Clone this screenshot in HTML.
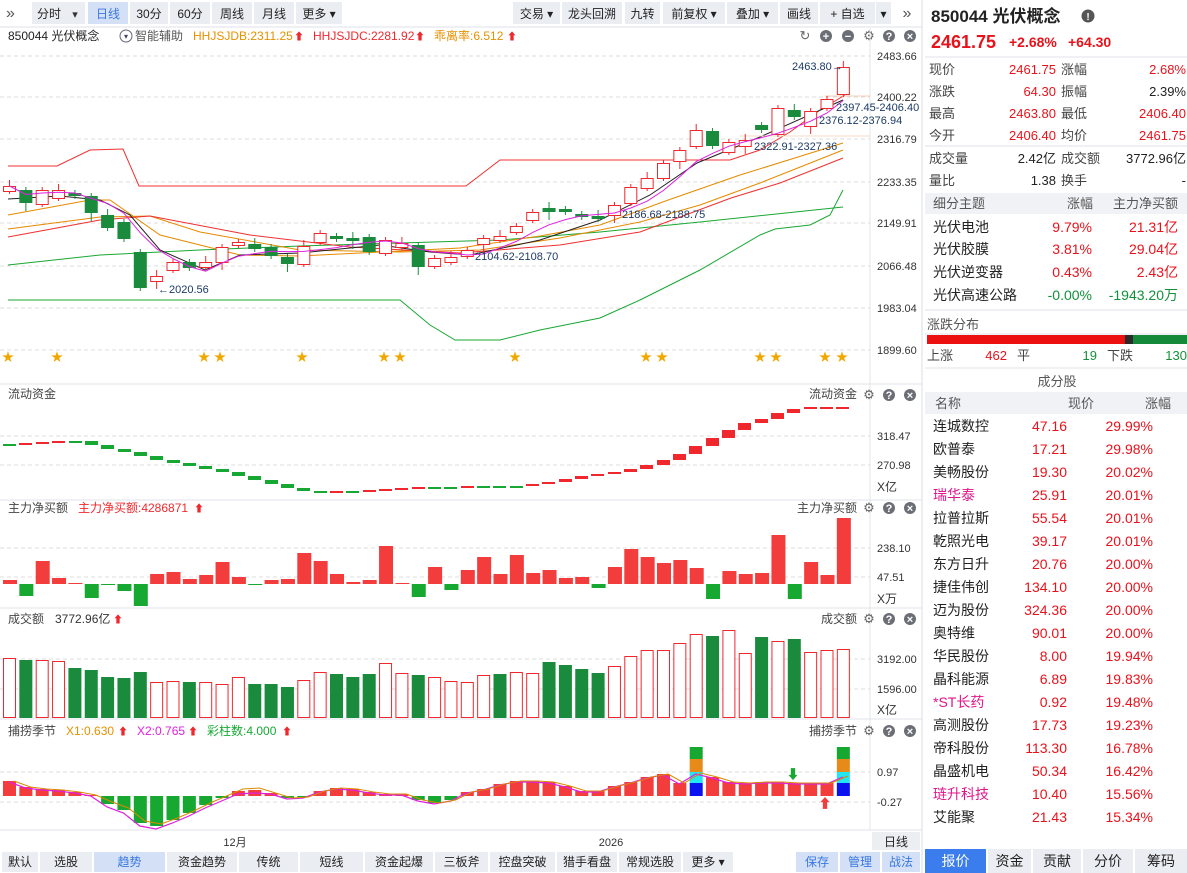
<!DOCTYPE html>
<html><head><meta charset="utf-8"><style>
html,body{margin:0;padding:0;background:#fff;width:1187px;height:873px;overflow:hidden}
svg{display:block;font-family:"Liberation Sans","Noto Sans CJK SC",sans-serif}
</style></head><body>
<svg id="s" width="1187" height="873" xmlns="http://www.w3.org/2000/svg"></svg>
<script>
const R='#f0282d',G='#1a8a3c',GG='#17a833';
let o='';
function rect(x,y,w,h,f,st){o+=`<rect x="${x}" y="${y}" width="${w}" height="${h}" fill="${f||'none'}" ${st?`stroke="${st}" stroke-width="1"`:''}/>`;}
function line(x1,y1,x2,y2,c,d){o+=`<line x1="${x1}" y1="${y1}" x2="${x2}" y2="${y2}" stroke="${c}" stroke-width="1" ${d?'stroke-dasharray="4,3"':''}/>`;}
function txt(x,y,t,c,sz,a,w){o+=`<text x="${x}" y="${y}" fill="${c||'#333'}" font-size="${sz||12}" ${a?`text-anchor="${a}"`:''} ${w?'font-weight="bold"':''}>${t}</text>`;}
function pl(pts,c,w){o+=`<polyline points="${pts.map(p=>p.join(',')).join(' ')}" fill="none" stroke="${c}" stroke-width="${w||1}"/>`;}
function btn(x1,x2,t,sel,y,h){rect(x1,2,x2-x1,22,sel?'#d3e0f5':'#eaeef3');txt((x1+x2)/2,18,t,sel?'#3a78e0':'#222',12,'middle');}
// top toolbar
txt(6,18,'»','#555',16);
[[32,66,'分时'],[88,128,'日线',1],[130,168,'30分'],[170,210,'60分'],[212,252,'周线'],[254,294,'月线'],[296,342,'更多 ▾'],[513,560,'交易 ▾'],[562,622,'龙头回溯'],[625,660,'九转'],[663,725,'前复权 ▾'],[727,778,'叠加 ▾'],[780,818,'画线'],[820,875,'+ 自选'],[876,891,'▾']].forEach(b=>btn(b[0],b[1],b[2],b[3]));
rect(66,2,19,22,'#eaeef3');txt(75,18,'▾','#333',11,'middle');
txt(907,18,'»','#555',16,'middle');
line(0,27,922,27,'#dde2ea');
// header
txt(8,40,'850044 光伏概念','#222',12);
o+=`<circle cx="126" cy="36" r="6" fill="none" stroke="#667"/>`;txt(126,39,'▾','#446',8,'middle');
txt(135,40,'智能辅助','#555',12);
txt(193,40,'HHJSJDB:2311.25','#e69100',12);txt(294,40,'⬆','#f0282d',10);
txt(313,40,'HHJSJDC:2281.92','#f0282d',12);txt(415,40,'⬆','#f0282d',10);
txt(434,40,'乖离率:6.512','#e69100',12);txt(507,40,'⬆','#f0282d',10);
function icons(y,ref){const xs=ref?[805,826,848,869,889,910]:[869,889,910];const g=ref?['↻','+','−','⚙','?','×']:['⚙','?','×'];xs.forEach((x,i)=>{if(g[i]=='↻'||g[i]=='⚙'){txt(x,y+4,g[i],'#666',13,'middle');}else{o+=`<circle cx="${x}" cy="${y}" r="6" fill="#6b6e74"/>`;txt(x,y+4,g[i],'#fff',11,'middle',1);}});}
icons(36,1);
// right axis separators
line(870,28,870,830,'#e3e6ea');line(922,0,922,873,'#d8dce3');
// main grid
const pl1=[[56,'2483.66'],[97,'2400.22'],[139,'2316.79'],[182,'2233.35'],[223,'2149.91'],[266,'2066.48'],[308,'1983.04'],[350,'1899.60']];
pl1.forEach(p=>{line(0,p[0],870,p[0],'#dcdcdc',1);txt(877,p[0]+4,p[1],'#333',11);});
// channel lines
pl([[8,166],[57,166],[90,150],[123,149],[139,186],[466,186],[500,160],[730,160],[760,150],[790,132],[820,110],[845,95]],'#f03030');
pl([[8,300],[400,300],[430,325],[455,340],[500,340],[540,330],[600,318],[640,300],[700,270],[760,235],[775,229],[810,225],[830,215],[843,190]],'#19a833');
pl([[8,265],[100,255],[200,250],[300,246],[400,243],[500,240],[600,232],[700,222],[843,207]],'#19a833');
pl([[8,229],[100,217],[150,216],[200,232],[300,250],[400,252],[480,250],[560,238],[640,222],[700,205],[760,183],[843,150]],'#e68a00');
pl([[8,215],[90,200],[110,200],[160,235],[240,255],[300,256],[380,252],[460,248],[540,236],[600,225],[671,199],[740,175],[843,143]],'#e68a00');
pl([[8,237],[100,220],[150,216],[250,235],[350,247],[460,253],[560,245],[640,232],[731,198],[780,183],[843,158]],'#f03030');
pl([[8,199],[60,196],[100,200],[130,215],[160,250],[205,270],[240,255],[300,253],[380,245],[430,252],[470,255],[540,240],[600,220],[650,195],[697,163],[760,137],[843,100]],'#222');
line(825,96,870,96,'#f5d0b8');line(740,136,870,136,'#f5dcc8');
// candles [top,bot,color]
const C=[[186,191,'r'],[190,203,'g'],[190,204,'r'],[190,198,'r'],[193,196,'g'],[196,213,'g'],[215,228,'g'],[222,239,'g'],[252,288,'g'],[276,281,'r'],[262,270,'r'],[262,268,'g'],[262,267,'r'],[247,262,'r'],[242,245,'r'],[244,249,'g'],[247,256,'g'],[257,264,'g'],[246,264,'r'],[233,242,'r'],[236,239,'g'],[238,241,'g'],[237,252,'g'],[240,253,'r'],[243,247,'r'],[245,267,'g'],[258,266,'r'],[257,262,'r'],[250,256,'r'],[238,244,'r'],[236,240,'r'],[226,232,'r'],[212,220,'r'],[208,212,'g'],[209,212,'g'],[214,217,'g'],[216,219,'g'],[205,215,'r'],[187,203,'r'],[178,188,'r'],[163,178,'r'],[150,161,'r'],[130,146,'r'],[131,146,'g'],[142,152,'r'],[140,146,'r'],[125,130,'g'],[108,134,'r'],[110,117,'g'],[111,126,'r'],[99,108,'r'],[67,94,'r']];
const cx=i=>9.5+16.35*i;
C.forEach((c,i)=>{const x=cx(i),col=c[2]=='r'?R:G;const wt=c[0]-(i%3==0?6:3),wb=c[1]+(i%4==1?8:3);line(x,wt,x,wb,col);if(c[2]=='r'){rect(x-6,c[0]+0.5,12,Math.max(c[1]-c[0],1),'#fff',R);}else rect(x-6.5,c[0],13,Math.max(c[1]-c[0],2),G);});
// MA5 magenta
const cl=C.map(c=>c[2]=='r'?c[0]:c[1]);
const m5=cl.map((v,i)=>{let s=0,n=0;for(let k=Math.max(0,i-4);k<=i;k++){s+=cl[k];n++;}return [cx(i),(s/n).toFixed(1)];});
pl(m5,'#e020e0');
// labels
txt(792,70,'2463.80→','#1d3b66',11);txt(836,111,'2397.45-2406.40','#1d3b66',11);txt(819,124,'2376.12-2376.94','#1d3b66',11);
txt(754,150,'2322.91-2327.36','#1d3b66',11);txt(622,218,'2186.68-2188.75','#1d3b66',11);txt(475,260,'2104.62-2108.70','#1d3b66',11);
txt(158,293,'←2020.56','#1d3b66',11);
[8,57,204,220,302,384,400,515,646,662,760,776,825,842].forEach(x=>txt(x,361,'★','#f0a800',12,'middle'));
// panel separators
[384,500,608,719].forEach(y=>line(0,y,922,y,'#e0e3e8'));
// panel 2
txt(8,398,'流动资金','#444',12);txt(857,398,'流动资金','#444',12,'end');icons(395);
line(0,436,870,436,'#dcdcdc',1);line(0,465,870,465,'#dcdcdc',1);
txt(877,440,'318.47','#333',11);txt(877,469,'270.98','#333',11);txt(877,491,'X亿','#333',12);
const F=[[0,444],[16,443],[33,442],[49,441],[66,441],[82,445],[98,449],[115,452],[131,456],[147,460],[164,463],[180,466],[196,469],[213,472],[229,476],[245,480],[262,484],[278,488],[294,491],[311,492],[327,491],[343,491],[360,490],[376,489],[392,488],[409,487],[425,487],[441,487],[458,486],[474,486],[490,486],[507,486],[523,484],[539,482],[556,479],[572,476],[588,474],[605,472],[621,469],[637,465],[654,460],[670,454],[686,446],[703,438],[719,430],[735,423],[752,419],[768,413],[784,409],[801,407],[817,407],[833,407]];
F.forEach((f,i)=>{const prev=i?F[i-1][1]:f[1];const up=f[1]<prev;const t=Math.min(f[1],prev),b=Math.max(f[1],prev);rect(f[0]+3,t,13,Math.max(b-t,2),up?R:(f[1]==prev&&i>48?(i==49?GG:R):GG));});
// panel 3
txt(8,512,'主力净买额','#444',12);txt(78,512,'主力净买额:4286871','#f0282d',12);txt(194,512,'⬆','#f0282d',10);txt(857,512,'主力净买额','#444',12,'end');icons(508);
line(0,548,870,548,'#dcdcdc',1);line(0,577,870,577,'#dcdcdc',1);
txt(877,552,'238.10','#333',11);txt(877,581,'47.51','#333',11);txt(877,603,'X万','#333',12);
const N=[580,596,561,578,583,598,585,591,606,574,572,579,575,562,577,585,580,579,553,561,574,582,580,546,583,597,567,590,570,557,574,555,573,570,578,577,588,567,549,557,563,560,568,599,571,574,573,535,599,562,575,518];
const base=584;
N.forEach((v,i)=>{const x=3+16.35*i;if(v<base)rect(x,v,14,base-v,'#f33c3c');else rect(x,base,14,v-base,'#16a831');});
// panel 4
txt(8,623,'成交额','#444',12);txt(55,623,'3772.96亿','#333',12);txt(113,623,'⬆','#f0282d',10);txt(857,623,'成交额','#444',12,'end');icons(619);
line(0,659,870,659,'#dcdcdc',1);line(0,689,870,689,'#dcdcdc',1);
txt(877,663,'3192.00','#333',11);txt(877,693,'1596.00','#333',11);txt(877,714,'X亿','#333',12);
const V=[[658,'r'],[660,'g'],[660,'r'],[661,'r'],[668,'g'],[670,'g'],[677,'g'],[678,'g'],[672,'g'],[682,'r'],[681,'r'],[682,'g'],[682,'r'],[684,'r'],[677,'r'],[684,'g'],[684,'g'],[687,'g'],[680,'r'],[672,'r'],[674,'g'],[677,'g'],[674,'g'],[663,'r'],[673,'r'],[675,'g'],[677,'r'],[681,'r'],[682,'r'],[675,'r'],[674,'g'],[672,'r'],[673,'r'],[662,'g'],[665,'g'],[669,'g'],[673,'g'],[666,'r'],[656,'r'],[650,'r'],[650,'r'],[643,'r'],[634,'r'],[636,'g'],[630,'r'],[653,'r'],[637,'g'],[641,'r'],[639,'g'],[652,'r'],[650,'r'],[649,'r']];
V.forEach((v,i)=>{const x=3+16.35*i;if(v[1]=='r')rect(x+0.5,v[0]+0.5,12,717-v[0],'#fff',R);else rect(x,v[0],13,718-v[0],G);});
// panel 5
txt(8,735,'捕捞季节','#444',12);txt(66,735,'X1:0.630','#e69100',12);txt(118,735,'⬆','#f0282d',10);txt(137,735,'X2:0.765','#e020e0',12);txt(188,735,'⬆','#f0282d',10);txt(207,735,'彩柱数:4.000','#17a833',12);txt(282,735,'⬆','#f0282d',10);
txt(857,735,'捕捞季节','#444',12,'end');icons(731);
line(0,772,870,772,'#dcdcdc',1);line(0,802,870,802,'#dcdcdc',1);
txt(877,776,'0.97','#333',11);txt(877,806,'-0.27','#333',11);
const K=[781,787,789,790,792,795,804,810,823,826,820,813,805,798,791,790,793,798,797,791,788,789,792,794,794,800,803,800,792,789,784,781,781,782,786,791,791,786,782,777,774,0,773,777,782,783,782,782,783,783,0,0];
const z=796;
K.forEach((v,i)=>{const x=3+16.35*i;if(i==42||i==51){rect(x,747,13,12,'#16a831');rect(x,759,13,13,'#e68a1a');rect(x,772,13,11,'#22e6f0');rect(x,783,13,13,'#0a12f0');return;}
if(v==0)v=783;const g=(i>=6&&i<=15)||i==17||i==18||(i>=25&&i<=27);if(v<z&&!g)rect(x,v,13,z-v,'#f33c3c');else if(v>z)rect(x,z,13,v-z,'#16a831');else rect(x,v,13,z-v,'#f33c3c');});
const L1=K.map((v,i)=>[3+16.35*i+6,(v==0?(i==42?772:i==51?776:783):v)]);
pl(L1.map((p,i)=>[p[0],(p[1]+(i>5&&i<16?2:0)+1).toFixed(1)]),'#e020e0',1.2);
pl(L1.map((p,i)=>[p[0]+5,(p[1]-(i>5&&i<16?2:0)).toFixed(1)]),'#d98a00',1);
txt(793,779,'⬇','#16a831',13,'middle');txt(825,808,'⬆','#f33c3c',13,'middle');
// date axis
line(0,830,922,830,'#e0e3e8');txt(235,846,'12月','#333',11,'middle');txt(611,846,'2026','#333',11,'middle');
rect(872,832,48,18,'#eceef2');txt(896,846,'日线','#222',12,'middle');
// bottom toolbar
function bb(x1,x2,t,sel,blue){rect(x1,852,x2-x1,20,sel?'#d3e0f5':'#eaeef3');txt((x1+x2)/2,866,t,sel||blue?'#3a78e0':'#222',12,'middle');}
[[2,38,'默认'],[40,92,'选股'],[94,165,'趋势',1],[167,237,'资金趋势'],[239,298,'传统'],[300,363,'短线'],[365,433,'资金起爆'],[435,488,'三板斧'],[490,555,'控盘突破'],[557,617,'猎手看盘'],[619,681,'常规选股'],[683,733,'更多 ▾'],[796,838,'保存',1],[840,880,'管理',1],[882,920,'战法',1]].forEach(b=>bb(b[0],b[1],b[2],b[3]));
// right panel
txt(931,22,'850044 光伏概念','#222',17,null,1);o+=`<circle cx="1088" cy="16" r="6.5" fill="#555"/>`;txt(1088,20,'!','#fff',10,'middle',1);
txt(931,48,'2461.75','#e8121b',18,null,1);txt(1009,47,'+2.68%','#e8121b',14,null,1);txt(1068,47,'+64.30','#e8121b',14,null,1);
line(925,57,1187,57,'#dfe3ea');
const rw=[[69,'现价','2461.75','涨幅','2.68%',1],[91,'涨跌','64.30','振幅','2.39%',0],[113,'最高','2463.80','最低','2406.40',1],[135,'今开','2406.40','均价','2461.75',1]];
rw.forEach(r=>{txt(929,r[0]+5,r[1],'#444',13);txt(1056,r[0]+5,r[2],'#e8121b',13,'end');txt(1061,r[0]+5,r[3],'#444',13);txt(1186,r[0]+5,r[4],r[5]?'#e8121b':'#222',13,'end');});
line(925,146,1187,146,'#dfe3ea');
txt(929,163,'成交量','#444',13);txt(1056,163,'2.42亿','#222',13,'end');txt(1061,163,'成交额','#444',13);txt(1186,163,'3772.96亿','#222',13,'end');
txt(929,185,'量比','#444',13);txt(1056,185,'1.38','#222',13,'end');txt(1061,185,'换手','#444',13);txt(1186,185,'-','#222',13,'end');
rect(925,193,262,21,'#f0f2f5');txt(933,208,'细分主题','#555',13);txt(1093,208,'涨幅','#555',13,'end');txt(1178,208,'主力净买额','#555',13,'end');
[[232,'光伏电池','9.79%','21.31亿','#e8121b'],[254,'光伏胶膜','3.81%','29.04亿','#e8121b'],[277,'光伏逆变器','0.43%','2.43亿','#e8121b'],[300,'光伏高速公路','-0.00%','-1943.20万','#13913a']].forEach(r=>{txt(933,r[0],r[1],'#222',14);txt(1092,r[0],r[2],r[4],14,'end');txt(1178,r[0],r[3],r[4],14,'end');});
line(925,310,1187,310,'#dfe3ea');
txt(927,329,'涨跌分布','#555',13);line(925,334,1187,334,'#dfe3ea');
rect(927,335,198,9,'#ec1010');rect(1125,335,8,9,'#2a2a2a');rect(1133,335,54,9,'#15893a');
txt(927,360,'上涨','#444',13);txt(1007,360,'462','#e8121b',13,'end');txt(1017,360,'平','#444',13);txt(1097,360,'19','#13913a',13,'end');txt(1107,360,'下跌','#444',13);txt(1187,360,'130','#13913a',13,'end');
line(925,368,1187,368,'#dfe3ea');
txt(1057,386,'成分股','#555',13,'middle');
rect(925,392,262,22,'#f0f2f5');txt(935,408,'名称','#555',13);txt(1081,408,'现价','#555',13,'middle');txt(1171,408,'涨幅','#555',13,'end');
const S=[['连城数控','47.16','29.99%'],['欧普泰','17.21','29.98%'],['美畅股份','19.30','20.02%'],['瑞华泰','25.91','20.01%',1],['拉普拉斯','55.54','20.01%'],['乾照光电','39.17','20.01%'],['东方日升','20.76','20.00%'],['捷佳伟创','134.10','20.00%'],['迈为股份','324.36','20.00%'],['奥特维','90.01','20.00%'],['华民股份','8.00','19.94%'],['晶科能源','6.89','19.83%'],['*ST长药','0.92','19.48%',1],['高测股份','17.73','19.23%'],['帝科股份','113.30','16.78%'],['晶盛机电','50.34','16.42%'],['琏升科技','10.40','15.56%',1],['艾能聚','21.43','15.34%']];
S.forEach((s,i)=>{const y=431+23*i;txt(933,y,s[0],s[3]?'#e0158a':'#222',14);txt(1067,y,s[1],'#e8121b',14,'end');txt(1153,y,s[2],'#e8121b',14,'end');});
// right tabs
[[925,986,'报价',1],[988,1031,'资金'],[1033,1081,'贡献'],[1083,1133,'分价'],[1135,1187,'筹码']].forEach(t=>{rect(t[0],849,t[1]-t[0],24,t[3]?'#3b7ded':'#eaeef3');txt((t[0]+t[1])/2,866,t[2],t[3]?'#fff':'#222',14,'middle');});
document.getElementById('s').innerHTML=o;
</script>
</body></html>
